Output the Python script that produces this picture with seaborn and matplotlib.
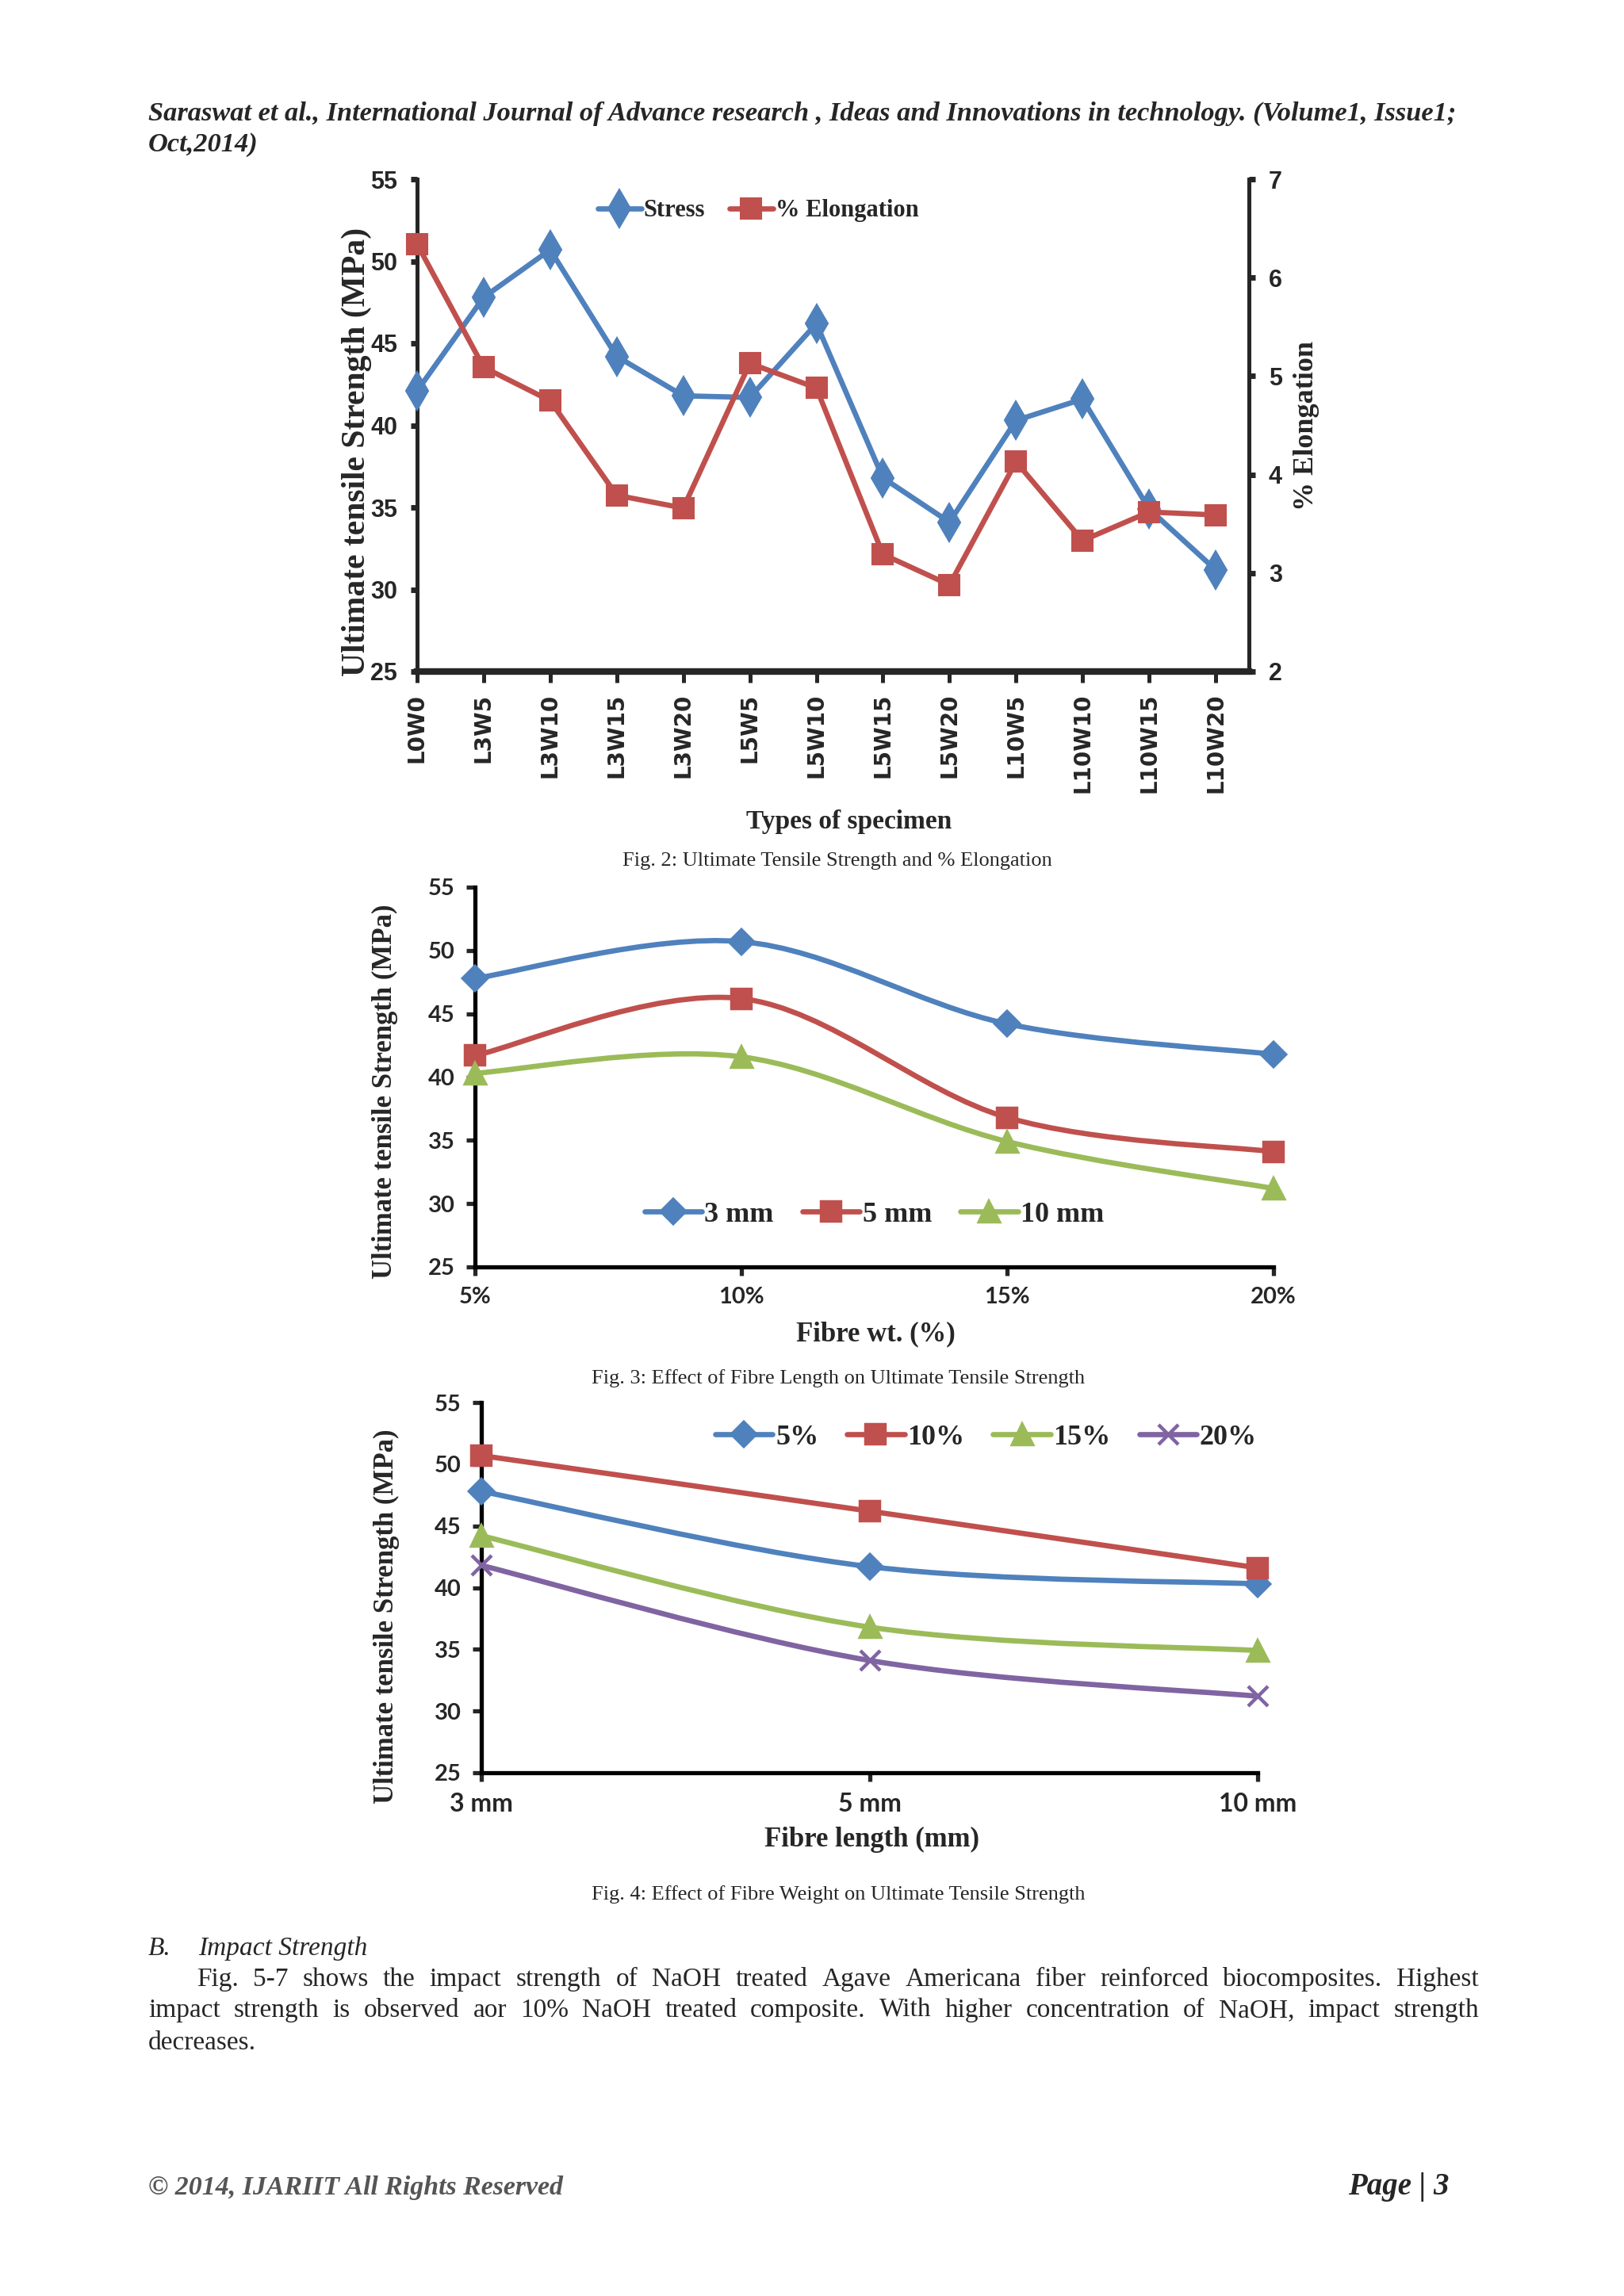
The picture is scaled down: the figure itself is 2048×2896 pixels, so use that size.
import numpy as np
import pandas as pd
import matplotlib
matplotlib.use('Agg')
import matplotlib.pyplot as plt
import seaborn as sns
from matplotlib.path import Path
from matplotlib.patches import PathPatch
from matplotlib.lines import Line2D

# ---- data ----
specimens = ['L0W0', 'L3W5', 'L3W10', 'L3W15', 'L3W20', 'L5W5', 'L5W10',
             'L5W15', 'L5W20', 'L10W5', 'L10W10', 'L10W15', 'L10W20']
stress = [42.1, 47.8, 50.7, 44.2, 41.8, 41.7, 46.2, 36.8, 34.1, 40.3, 41.6, 34.9, 31.2]
elongation = [6.34, 5.09, 4.75, 3.79, 3.66, 5.13, 4.88, 3.19, 2.88, 4.13, 3.33, 3.62, 3.59]

fibre_wt = ['5%', '10%', '15%', '20%']
uts_3mm = [47.8, 50.7, 44.2, 41.8]
uts_5mm = [41.7, 46.2, 36.8, 34.1]
uts_10mm = [40.3, 41.6, 34.9, 31.2]

fibre_len = ['3 mm', '5 mm', '10 mm']
uts_5pct = [47.8, 41.7, 40.3]
uts_10pct = [50.7, 46.2, 41.6]
uts_15pct = [44.2, 36.8, 34.9]
uts_20pct = [41.8, 34.1, 31.2]

BLUE = '#4F81BD'
RED = '#C0504D'
GREEN = '#9BBB59'
PURPLE = '#8064A2'

sns.set_style("white")
plt.rcParams['font.family'] = ['Liberation Serif', 'DejaVu Serif']

W, H = 2048, 2896
fig = plt.figure(figsize=(W / 200, H / 200), dpi=200)


def fx(x):
    return x / W


def fy(y):
    return 1 - y / H


def add_axes(left, right, top, bottom):
    return fig.add_axes([fx(left), fy(bottom), (right - left) / W, (bottom - top) / H])


def smooth_path(xs, ys):
    # excel-like smoothed line through the points (bezier segments)
    pts = np.column_stack([xs, ys]).astype(float)
    n = len(pts)
    verts = [pts[0]]
    codes = [Path.MOVETO]
    for i in range(n - 1):
        p0 = pts[max(i - 1, 0)]
        p1 = pts[i]
        p2 = pts[i + 1]
        p3 = pts[min(i + 2, n - 1)]
        verts += [p1 + (p2 - p0) / 6, p2 - (p3 - p1) / 6, p2]
        codes += [Path.CURVE4] * 3
    return Path(verts, codes)


SANS = ['Lato', 'Liberation Sans']

# ================= Fig. 2 =================
ax = add_axes(526, 1575, 226, 847)
df2 = pd.DataFrame({'pos': np.arange(len(specimens)), 'Stress': stress, 'Elong': elongation})
sns.lineplot(data=df2, x='pos', y='Stress', ax=ax, color=BLUE, marker='d', markersize=12,
             markeredgecolor=BLUE, lw=2.4, label='Stress', legend=False, clip_on=False, zorder=3)
ax2 = ax.twinx()
sns.lineplot(data=df2, x='pos', y='Elong', ax=ax2, color=RED, marker='s', markersize=9.5,
             markeredgecolor=RED, lw=2.4, label='% Elongation', legend=False, clip_on=False)
ax.set_xlim(0, 12.5)
ax.set_ylim(25, 55)
ax2.set_ylim(2, 7)
ax.set_yticks(range(25, 56, 5))
ax2.set_yticks(range(2, 8))
ax.set_xticks(df2['pos'])
ax.set_xticklabels(specimens, rotation=90, fontsize=10, fontweight='bold', family='DejaVu Sans')
ax.set_xlabel('')
ax.set_ylabel('')
ax2.set_ylabel('')
for a in (ax, ax2):
    a.spines['top'].set_visible(False)
    a.spines['left'].set_linewidth(1.8)
    a.spines['right'].set_linewidth(1.8)
    a.spines['bottom'].set_linewidth(3.0)
ax.spines['right'].set_visible(False)
ax2.spines['left'].set_visible(False)
ax2.spines['bottom'].set_visible(False)
ax.tick_params(axis='x', direction='out', length=5, width=1.8, pad=5, bottom=True)
ax.tick_params(axis='y', direction='out', length=3, width=2.5, pad=6, left=True)
ax2.tick_params(axis='y', direction='out', length=3, width=2.5, pad=6, right=True)
for t in ax.get_yticklabels() + ax2.get_yticklabels():
    t.set_family('Liberation Sans')
    t.set_fontweight('bold')
    t.set_fontsize(11)
h1, l1 = ax.get_legend_handles_labels()
h2, l2 = ax2.get_legend_handles_labels()
ax.legend(h1 + h2, l1 + l2, loc='center', bbox_to_anchor=(0.41, 0.936), ncol=2, frameon=False,
          prop={'family': 'Liberation Serif', 'weight': 'bold', 'size': 11},
          handlelength=1.8, handletextpad=0.1, columnspacing=1.0)
fig.text(fx(450), fy(570), 'Ultimate tensile Strength (MPa)', rotation=90, ha='center', va='center',
         fontsize=15, fontweight='bold')
fig.text(fx(1648), fy(537), '% Elongation', rotation=90, ha='center', va='center',
         fontsize=13, fontweight='bold')
fig.text(fx(1071), fy(1036), 'Types of specimen', ha='center', va='center', fontsize=12, fontweight='bold')
fig.text(fx(1056), fy(1086), 'Fig. 2: Ultimate Tensile Strength and % Elongation', ha='center', va='center',
         fontsize=9.5)


# ================= Fig. 3 / Fig. 4 helper =================
def smooth_chart(ax, cats, series, legend_anchor, legend_size, tick_size):
    pos = np.arange(len(cats))
    handles = []
    for name, vals, color, marker, ms in series:
        ax.add_patch(PathPatch(smooth_path(pos, vals), fill=False, edgecolor=color, lw=2.4,
                               capstyle='round', zorder=2))
        sns.lineplot(x=pos, y=vals, ax=ax, color=color, marker=marker, markersize=ms, ls='none',
                     markeredgecolor=color, markeredgewidth=1.6, zorder=3, clip_on=False)
        handles.append(Line2D([], [], color=color, lw=2.4, marker=marker, markersize=ms,
                              markeredgecolor=color, markeredgewidth=1.6, label=name))
    ax.set_xlim(0, len(cats) - 1)
    ax.set_ylim(25, 55)
    ax.set_yticks(range(25, 56, 5))
    ax.set_xticks(pos)
    ax.set_xticklabels(cats)
    for s in ('top', 'right'):
        ax.spines[s].set_visible(False)
    for s in ('left', 'bottom'):
        ax.spines[s].set_linewidth(1.9)
        ax.spines[s].set_color('black')
    ax.tick_params(axis='both', direction='out', length=4, width=1.9, pad=5, bottom=True, left=True)
    for t in ax.get_yticklabels():
        t.set_family(SANS)
        t.set_fontweight('bold')
        t.set_fontsize(10.5)
    for t in ax.get_xticklabels():
        t.set_family(SANS)
        t.set_fontweight('bold')
        t.set_fontsize(tick_size)
    ax.legend(handles=handles, loc='center', bbox_to_anchor=legend_anchor, ncol=len(series),
              frameon=False, prop={'family': 'Liberation Serif', 'weight': 'bold', 'size': legend_size},
              handlelength=2.0, handletextpad=0.1, columnspacing=1.0)


ax3 = add_axes(599, 1606, 1119, 1598)
smooth_chart(ax3, fibre_wt,
             [('3 mm', uts_3mm, BLUE, 'D', 7.5),
              ('5 mm', uts_5mm, RED, 's', 8.5),
              ('10 mm', uts_10mm, GREEN, '^', 9)],
             (0.50, 0.138), 13, 10.5)
fig.text(fx(485), fy(1377), 'Ultimate tensile Strength (MPa)', rotation=90, ha='center', va='center',
         fontsize=12.5, fontweight='bold')
fig.text(fx(1104), fy(1683), 'Fibre wt. (%)', ha='center', va='center', fontsize=12.5, fontweight='bold')
fig.text(fx(1057), fy(1739), 'Fig. 3: Effect of Fibre Length on Ultimate Tensile Strength', ha='center',
         va='center', fontsize=9.5)

ax4 = add_axes(607, 1586, 1769, 2236)
smooth_chart(ax4, fibre_len,
             [('5%', uts_5pct, BLUE, 'D', 7.5),
              ('10%', uts_10pct, RED, 's', 8.5),
              ('15%', uts_15pct, GREEN, '^', 9),
              ('20%', uts_20pct, PURPLE, 'x', 9)],
             (0.65, 0.906), 13, 11.5)
fig.text(fx(487), fy(2039), 'Ultimate tensile Strength (MPa)', rotation=90, ha='center', va='center',
         fontsize=12.5, fontweight='bold')
fig.text(fx(1099), fy(2320), 'Fibre length (mm)', ha='center', va='center', fontsize=12.5, fontweight='bold')
fig.text(fx(1057), fy(2390), 'Fig. 4: Effect of Fibre Weight on Ultimate Tensile Strength', ha='center',
         va='center', fontsize=9.5)

# ================= page text =================
fig.text(fx(187), fy(152), 'Saraswat et al., International Journal of Advance research , Ideas and '
         'Innovations in technology. (Volume1, Issue1;', va='baseline', fontsize=12.4,
         fontweight='bold', style='italic')
fig.text(fx(187), fy(191), 'Oct,2014)', va='baseline', fontsize=12.4, fontweight='bold', style='italic')

fig.text(fx(187), fy(2466), 'B.', va='baseline', fontsize=12, style='italic')
fig.text(fx(250), fy(2466), 'Impact Strength', va='baseline', fontsize=12, style='italic')

renderer = fig.canvas.get_renderer()


def justified(words, x0, x1, y, size=12):
    texts = [fig.text(0, fy(y), w, va='baseline', fontsize=size) for w in words.split()]
    widths = [t.get_window_extent(renderer).width for t in texts]
    gap = ((x1 - x0) - sum(widths)) / (len(texts) - 1)
    x = x0
    for t, w in zip(texts, widths):
        t.set_x(fx(x))
        x += w + gap


justified('Fig. 5-7 shows the impact strength of NaOH treated Agave Americana fiber reinforced '
          'biocomposites. Highest', 248, 1865, 2505)
justified('impact strength is observed aor 10% NaOH treated composite. With higher concentration '
          'of NaOH, impact strength', 187, 1865, 2544)
fig.text(fx(187), fy(2585), 'decreases.', va='baseline', fontsize=12)

fig.text(fx(187), fy(2768), '\u00a9 2014, IJARIIT All Rights Reserved', va='baseline', fontsize=12.2,
         fontweight='bold', style='italic', color='#555555')
fig.text(fx(1828), fy(2768), 'Page | 3', ha='right', va='baseline', fontsize=14,
         fontweight='bold', style='italic')

fig.savefig('out.png', dpi=200, facecolor='white')
